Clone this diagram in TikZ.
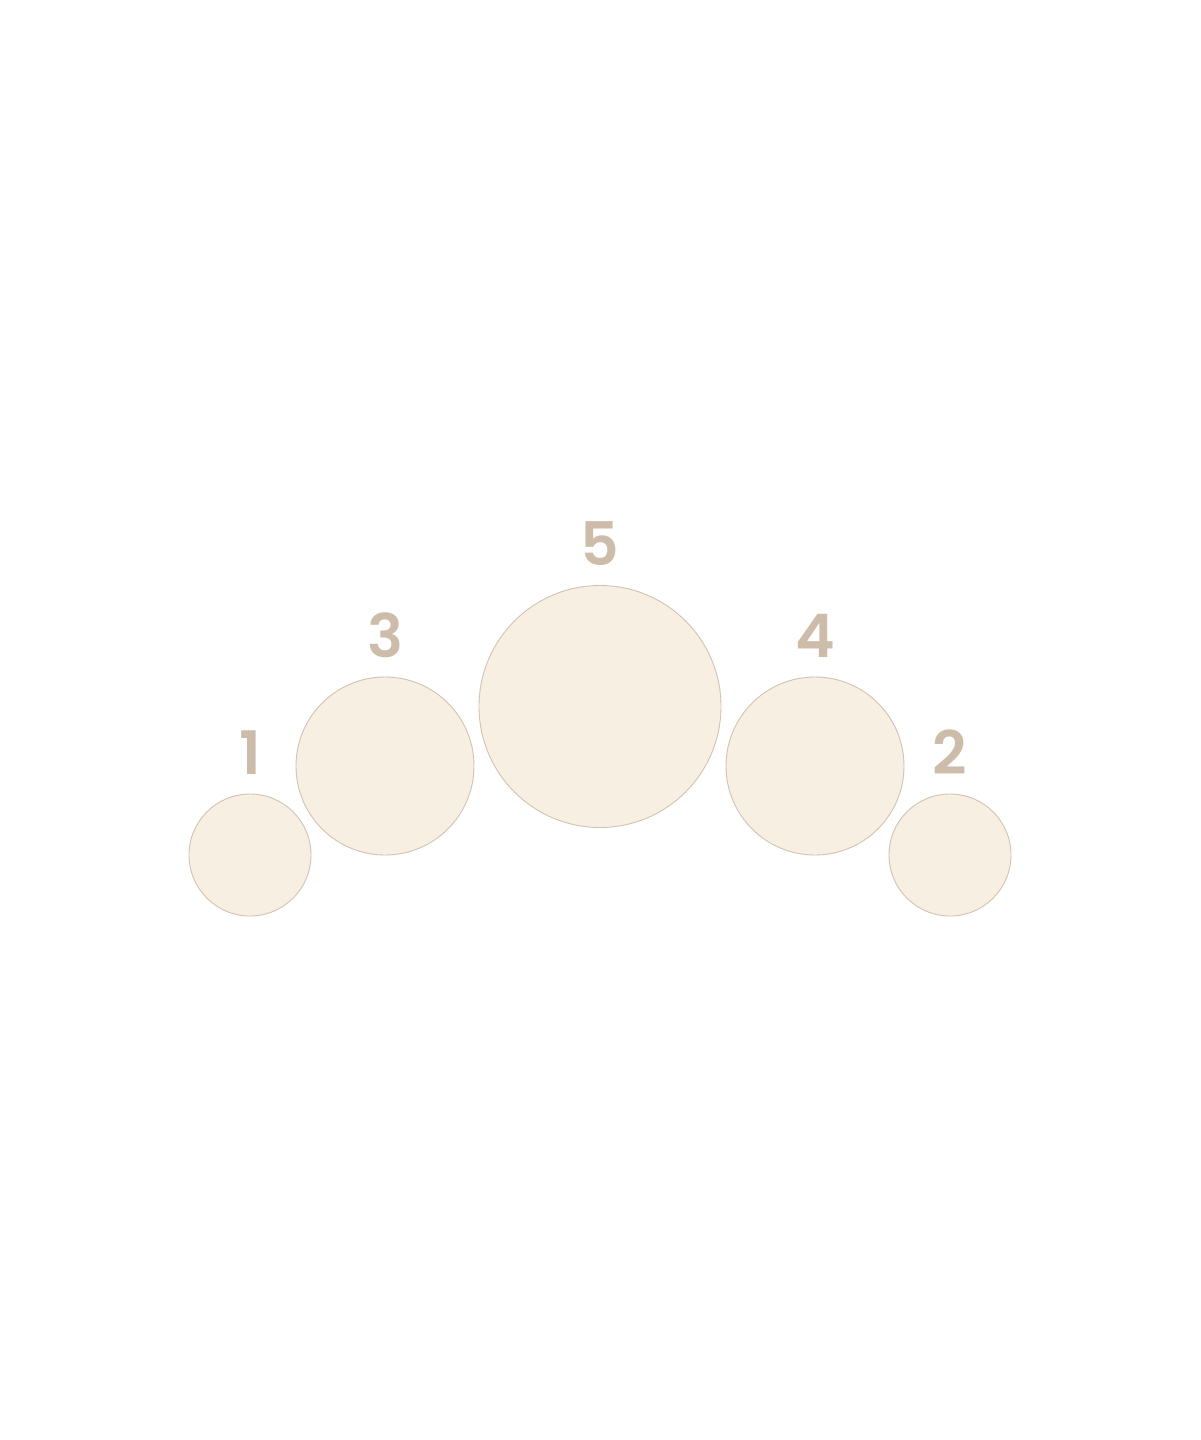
\documentclass[tikz,border=0pt]{standalone}
\usepackage{fontspec}
\setmainfont{Poppins}[BoldFont={Poppins SemiBold}]
\usepackage{tikz}
\usetikzlibrary{positioning}

\definecolor{discfill}{HTML}{F7EFE2}
\definecolor{discline}{HTML}{D3C2B1}
\definecolor{disctext}{HTML}{CDBCAA}

\tikzset{
  disc/.style={circle,draw=discline,fill=discfill,line width=0.9pt,inner sep=0pt},
  disclabel/.style={text=disctext,font=\fontsize{60}{60}\selectfont\bfseries,inner sep=0pt}
}

\begin{document}
\begin{tikzpicture}[x=1pt,y=-1pt]
  \pgfmathsetmacro\rsmall{61}
  \pgfmathsetmacro\rmid{89}
  \pgfmathsetmacro\rbig{121}
  \pgfmathsetmacro\lgap{19}   % gap between disc and its number

  \useasboundingbox (0,0) rectangle (1200,1440);

% discs, from left to right
  \node[disc,minimum size=2*\rsmall] (d1) at (250,855)   {};
  \node[disc,minimum size=2*\rmid]   (d3) at (385,766)   {};
  \node[disc,minimum size=2*\rbig]   (d5) at (600,706.5) {};
  \node[disc,minimum size=2*\rmid]   (d4) at (815,766)   {};
  \node[disc,minimum size=2*\rsmall] (d2) at (950,855)   {};

% numbers above the discs
  \node[disclabel,above=\lgap pt of d1] (n1) {1};
  \node[disclabel,above=\lgap pt of d3] (n3) {3};
  \node[disclabel,above=\lgap pt of d5] (n5) {5};
  \node[disclabel,above=\lgap pt of d4] (n4) {4};
  \node[disclabel,above=\lgap pt of d2] (n2) {2};

\end{tikzpicture}
\end{document}
